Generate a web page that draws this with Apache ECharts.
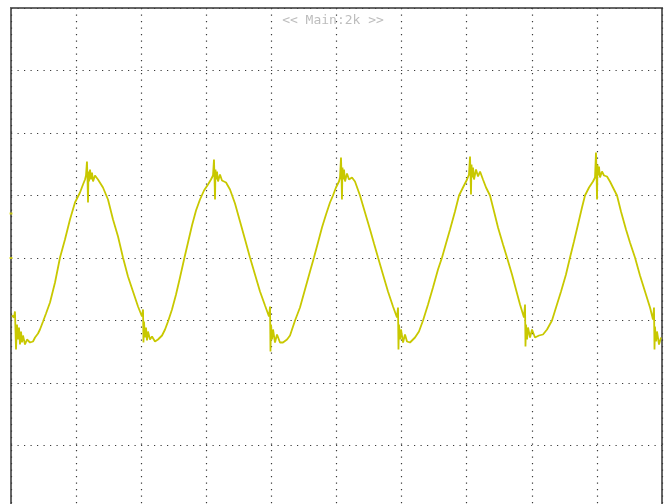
<!DOCTYPE html>
<html>
<head>
<meta charset="utf-8">
<script src="https://cdn.jsdelivr.net/npm/echarts@6/dist/echarts.min.js"></script>
<style>
html,body{margin:0;padding:0;background:#fff;}
#chart{width:666px;height:504px;}
</style>
</head>
<body>
<div id="chart"></div>
<script>
// Time in ms (1 ms/div), voltage in mV (500 mV/div)
var titleText = '<< Main:2k >>';
var xTicks = [0,1,2,3,4,5,6,7,8,9,10];
var yTicks = [-2000,-1500,-1000,-500,0,500,1000,1500,2000];

var cycle0 = [
[0.015,-460],[0.046,-476],[0.061,-428],[0.077,-732],[0.092,-532],[0.108,-652],[0.123,-556],[0.138,-692],
[0.154,-588],[0.169,-676],[0.184,-620],[0.215,-692],[0.246,-652],[0.292,-676],[0.338,-668],[0.369,-636],
[0.415,-604],[0.445,-572],[0.492,-508],[0.538,-444],[0.599,-356],[0.676,-196],[0.753,4],[0.829,148],
[0.906,308],[0.983,444],[1.029,492],[1.060,524],[1.106,588],[1.137,628],[1.152,660],[1.167,772],
[1.175,644],[1.183,444],[1.190,692],[1.198,612],[1.214,708],[1.229,628],[1.244,684],[1.260,612],
[1.290,660],[1.336,628],[1.413,564],[1.490,468],[1.567,308],[1.644,172],[1.720,4],[1.797,-148],
[1.874,-268],[1.951,-388],[2.012,-468],[2.028,-412],[2.035,-676],[2.043,-508],[2.058,-636],[2.074,-556],
[2.089,-660],[2.104,-588],[2.135,-652],[2.166,-628]
];
var cycle1 = [
[2.212,-668],[2.258,-652],[2.320,-620],[2.366,-572],[2.412,-508],[2.473,-412],[2.535,-292],[2.596,-156],
[2.658,-12],[2.719,124],[2.780,260],[2.842,380],[2.903,468],[2.965,540],[3.026,588],[3.072,628],
[3.103,660],[3.118,788],[3.126,644],[3.134,468],[3.141,708],[3.149,628],[3.164,692],[3.180,612],
[3.210,668],[3.241,620],[3.303,604],[3.364,548],[3.441,436],[3.518,292],[3.595,148],[3.671,4],
[3.748,-132],[3.825,-268],[3.902,-380],[3.963,-468],[3.979,-388],[3.986,-748],[3.994,-532],[4.009,-652],
[4.025,-572],[4.055,-676],[4.086,-612],[4.132,-676],[4.178,-676]
];
var cycle2 = [
[4.240,-652],[4.286,-620],[4.363,-500],[4.439,-396],[4.516,-252],[4.593,-108],[4.654,4],[4.716,124],
[4.777,244],[4.839,348],[4.900,444],[4.946,500],[4.992,564],[5.038,612],[5.054,644],[5.069,804],
[5.077,668],[5.084,468],[5.092,724],[5.100,628],[5.115,708],[5.131,612],[5.161,676],[5.192,628],
[5.238,644],[5.284,612],[5.361,500],[5.438,364],[5.515,228],[5.576,116],[5.638,4],[5.714,-132],
[5.791,-268],[5.868,-388],[5.929,-476],[5.945,-396],[5.952,-732],[5.960,-532],[5.976,-652],[5.991,-572],
[6.022,-676],[6.052,-612],[6.083,-668],[6.129,-676]
];
var cycle3 = [
[6.206,-636],[6.267,-588],[6.329,-500],[6.406,-372],[6.482,-236],[6.559,-92],[6.621,4],[6.682,116],
[6.744,228],[6.820,372],[6.882,500],[6.943,564],[7.005,628],[7.035,668],[7.051,812],[7.059,668],
[7.066,508],[7.074,748],[7.082,644],[7.097,724],[7.112,628],[7.143,708],[7.174,652],[7.205,692],
[7.250,628],[7.297,564],[7.358,500],[7.420,372],[7.481,244],[7.558,108],[7.619,4],[7.696,-132],
[7.757,-252],[7.819,-372],[7.880,-476],[7.896,-372],[7.903,-708],[7.911,-532],[7.927,-652],[7.942,-556],
[7.973,-636],[8.003,-572],[8.049,-636],[8.111,-620],[8.172,-612]
];
var cycle4 = [
[8.234,-572],[8.310,-500],[8.372,-396],[8.449,-268],[8.525,-132],[8.587,4],[8.648,132],[8.710,268],
[8.771,404],[8.817,500],[8.879,564],[8.940,612],[8.971,644],[8.986,844],[8.994,692],[9.002,468],
[9.009,748],[9.017,660],[9.032,732],[9.048,644],[9.078,692],[9.109,660],[9.155,652],[9.201,612],
[9.247,564],[9.309,500],[9.370,372],[9.447,228],[9.508,124],[9.585,4],[9.662,-140],[9.739,-268],
[9.816,-396],[9.862,-492],[9.877,-396],[9.885,-732],[9.892,-548],[9.908,-668],[9.923,-588],[9.954,-692],
[9.985,-636]
];
// channel / trigger markers on the left edge (mV)
var markerLevels = [356, 0];

var trace = [].concat(cycle0, cycle1, cycle2, cycle3, cycle4);

var chart = echarts.init(document.getElementById('chart'), null, {renderer:'canvas'});
chart.setOption({
  animation:false,
  backgroundColor:'#ffffff',
  title:{
    text:titleText, left:'center', top:9,
    textStyle:{fontFamily:'DejaVu Sans Mono', fontSize:13, fontWeight:'normal', color:'#bdbdbd'}
  },
  grid:{left:11, right:4, top:8, height:500, outerBoundsMode:'none', containLabel:false,
        show:true, borderColor:'#666', borderWidth:2, backgroundColor:'transparent'},
  xAxis:{
    type:'value', min:xTicks[0], max:xTicks[xTicks.length-1], interval:1,
    axisLine:{show:false}, axisTick:{show:false}, axisLabel:{show:false},
    splitLine:{show:true, lineStyle:{color:'#3a3a3a', width:1.2, type:[1.2,5.3]}}
  },
  yAxis:{
    type:'value', min:yTicks[0], max:yTicks[yTicks.length-1], interval:500,
    axisLine:{show:false}, axisTick:{show:false}, axisLabel:{show:false},
    splitLine:{show:true, lineStyle:{color:'#3a3a3a', width:1.2, type:[1.2,5.3]}}
  },
  series:[
    {
      type:'line', data:trace, showSymbol:false, symbol:'none',
      lineStyle:{color:'#c8c800', width:1.8}, z:3, clip:true
    },
    {
      type:'scatter', data:markerLevels.map(function(v){return [0, v];}),
      symbol:'rect', symbolSize:[3,2], itemStyle:{color:'#d8d800'}, z:4, clip:false
    }
  ]
});
</script>
</body>
</html>
